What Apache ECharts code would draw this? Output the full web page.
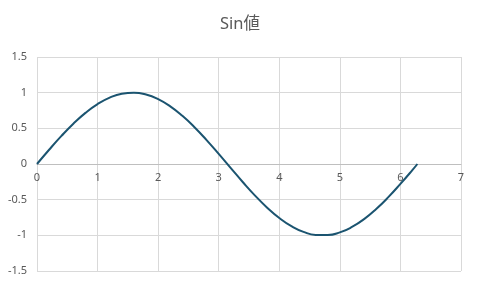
<!DOCTYPE html>
<html><head><meta charset="utf-8">
<script src="https://cdn.jsdelivr.net/npm/echarts@6/dist/echarts.min.js"></script>
<style>html,body{margin:0;padding:0;background:#fff}#c{width:480px;height:285px}</style>
</head><body><div id="c"></div>
<script>
const titleText = "Sin値";
const xValues = [0,0.2,0.4,0.6,0.8,1.0,1.2,1.4,1.6,1.8,2.0,2.2,2.4,2.6,2.8,3.0,3.2,3.4,3.6,3.8,4.0,4.2,4.4,4.6,4.8,5.0,5.2,5.4,5.6,5.8,6.0,6.2,6.28];
const yValues = [0,0.2,0.39,0.565,0.717,0.84,0.93,0.985,1.0,0.974,0.909,0.808,0.675,0.516,0.335,0.141,-0.058,-0.256,-0.443,-0.612,-0.757,-0.872,-0.952,-0.994,-0.996,-0.959,-0.883,-0.773,-0.631,-0.465,-0.279,-0.083,0];
const chart = echarts.init(document.getElementById('c'));
const data = xValues.map((x,i)=>[x,yValues[i]]);
chart.setOption({
  animation:false,
  title:{text:titleText,left:'center',top:11,textStyle:{fontFamily:'Noto Sans, Noto Sans CJK JP',fontSize:16.5,fontWeight:'normal',color:'#595959'}},
  grid:{left:37,right:19,top:57,bottom:14},
  xAxis:{type:'value',min:0,max:7,interval:1,offset:-107,
    axisLine:{onZero:false,lineStyle:{color:'#bfbfbf'}},axisTick:{show:false},
    axisLabel:{color:'#595959',fontSize:11,fontFamily:'Noto Sans',margin:8},
    splitLine:{show:true,lineStyle:{color:'#d9d9d9'}}},
  yAxis:{type:'value',min:-1.5,max:1.5,interval:0.5,
    axisLine:{show:false},axisTick:{show:false},
    axisLabel:{color:'#595959',fontSize:11,fontFamily:'Noto Sans',margin:10},
    splitLine:{show:true,lineStyle:{color:'#d9d9d9'}}},
  series:[{type:'line',data:data,smooth:0.5,showSymbol:false,lineStyle:{color:'#1b5470',width:2}}]
});
</script></body></html>
